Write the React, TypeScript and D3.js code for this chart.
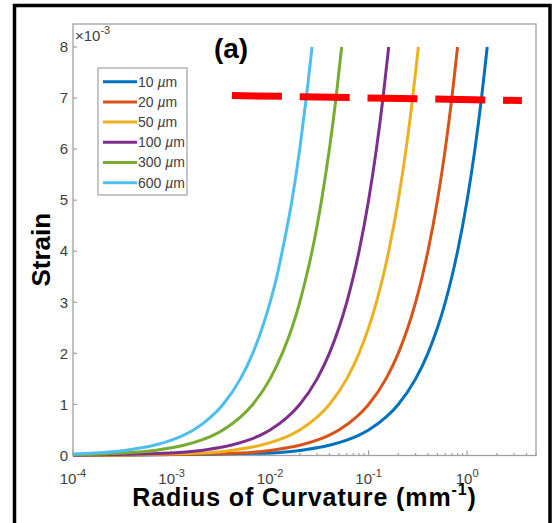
import React from "react";
import * as d3 from "d3";

// legend labels (film thickness, um) and MATLAB default colours
const thickness = ["10", "20", "50", "100", "300", "600"];
const colors = ["#0072BD", "#D95319", "#EDB120", "#7E2F8E", "#77AC30", "#4DBEEE"];

// strain (x10^-3), shared levels
const strainLevels = [0.05, 0.1, 0.15, 0.2, 0.3, 0.4, 0.5, 0.75, 1, 1.5, 2, 2.5, 3, 3.5, 4, 5, 6, 7, 8];
// curvature (mm^-1) where each curve reaches the levels above
const k10 = [0.01, 0.02, 0.03, 0.04, 0.06, 0.08, 0.1, 0.15, 0.2, 0.3, 0.4, 0.5, 0.6, 0.7, 0.8, 1.0, 1.2, 1.4, 1.6];
const k20 = [0.005, 0.01, 0.015, 0.02, 0.03, 0.04, 0.05, 0.075, 0.1, 0.15, 0.2, 0.25, 0.3, 0.35, 0.4, 0.5, 0.6, 0.7, 0.8];
const k50 = [0.002, 0.004, 0.006, 0.008, 0.012, 0.016, 0.02, 0.03, 0.04, 0.06, 0.08, 0.1, 0.12, 0.14, 0.16, 0.2, 0.24, 0.28, 0.32];
const k100 = [0.001, 0.002, 0.003, 0.004, 0.006, 0.008, 0.01, 0.015, 0.02, 0.03, 0.04, 0.05, 0.06, 0.07, 0.08, 0.1, 0.12, 0.14, 0.16];
const k300 = [0.00033, 0.00067, 0.001, 0.00133, 0.002, 0.00267, 0.00333, 0.005, 0.00667, 0.01, 0.0133, 0.0167, 0.02, 0.0233, 0.0267, 0.0333, 0.04, 0.0467, 0.0533];
const k600 = [0.000167, 0.000333, 0.0005, 0.000667, 0.001, 0.00133, 0.00167, 0.0025, 0.00333, 0.005, 0.00667, 0.00833, 0.01, 0.0117, 0.0133, 0.0167, 0.02, 0.0233, 0.0267];
const curvatures = [k10, k20, k50, k100, k300, k600];
// strain at the left edge (curvature 1e-4)
const startStrain = [0.0005, 0.001, 0.0025, 0.005, 0.015, 0.03];

// red dashed threshold
const thresholdK = [0.0041, 3.6];
const thresholdStrain = [7.05, 6.95];

const yTicks = [0, 1, 2, 3, 4, 5, 6, 7, 8];
const xDecades = [-4, -3, -2, -1, 0];

const FONT = "Arial, 'Liberation Sans', Helvetica, sans-serif";
const AXIS = "#a0a0a0";
const TXT = "#404040";

const App = () => {
    const width = 555;
    const height = 523;
    const left = 73, right = 536, top = 24, bottom = 455.5;

    const x = d3.scaleLog().domain([1e-4, 5]).range([left, right]);
    const y = d3.scaleLinear().domain([0, 8.45]).range([bottom, top]);

    const line = d3
        .line<[number, number]>()
        .x((d) => x(d[0]))
        .y((d) => y(d[1]))
        .curve(d3.curveMonotoneX);

    const series = curvatures.map((ks, i) => {
        const pts: [number, number][] = [[1e-4, startStrain[i]]];
        ks.forEach((k, j) => {
            if (k > 1e-4) pts.push([k, strainLevels[j]]);
        });
        return pts;
    });

    const minorTicks: number[] = [];
    xDecades.forEach((e) => {
        for (let m = 2; m <= 9; m++) {
            const v = m * Math.pow(10, e);
            if (v <= 5) minorTicks.push(v);
        }
    });

    const thresholdPts: [number, number][] = thresholdK.map((k, i) => [k, thresholdStrain[i]]);
    const straight = d3
        .line<[number, number]>()
        .x((d) => x(d[0]))
        .y((d) => y(d[1]));

    return (
        <svg
            width={width}
            height={height}
            style={{ position: "absolute", left: 0, top: 0, background: "#fff" }}
            fontFamily={FONT}
        >
            {/* outer frame */}
            <rect x={14.5} y={5.5} width={535.5} height={540} fill="none" stroke="#000" strokeWidth={3.5} />

            {/* axes box */}
            <rect x={left} y={top} width={right - left} height={bottom - top} fill="#fff" stroke={AXIS} strokeWidth={1.3} />

            {/* y ticks */}
            {yTicks.map((t) => (
                <g key={"y" + t}>
                    <line x1={left} x2={left + 4} y1={y(t)} y2={y(t)} stroke={AXIS} strokeWidth={1.2} />
                    <text x={left - 5} y={y(t)} dy="0.35em" textAnchor="end" fontSize={15} fill={TXT}>
                        {t}
                    </text>
                </g>
            ))}

            {/* x ticks */}
            {minorTicks.map((v, i) => (
                <line key={"m" + i} x1={x(v)} x2={x(v)} y1={bottom} y2={bottom - 2.5} stroke={AXIS} strokeWidth={1.2} />
            ))}
            {xDecades.map((e) => (
                <g key={"x" + e}>
                    <line x1={x(Math.pow(10, e))} x2={x(Math.pow(10, e))} y1={bottom} y2={bottom - 5} stroke={AXIS} strokeWidth={1.2} />
                    <text x={x(Math.pow(10, e))} y={484} textAnchor="middle" fontSize={15} fill={TXT}>
                        10
                        <tspan fontSize={11} dy={-7}>
                            {e === 0 ? "0" : "-" + Math.abs(e)}
                        </tspan>
                    </text>
                </g>
            ))}

            {/* exponent */}
            <text x={75} y={41} fontSize={15} fill={TXT}>
                ×10
                <tspan fontSize={11} dy={-7}>-3</tspan>
            </text>

            {/* curves */}
            {series.map((pts, i) => (
                <path key={thickness[i]} d={line(pts) || ""} fill="none" stroke={colors[i]} strokeWidth={3} strokeLinejoin="round" />
            ))}

            {/* threshold */}
            <path
                d={straight(thresholdPts) || ""}
                fill="none"
                stroke="#ff0000"
                strokeWidth={7}
                strokeDasharray="50 17.8"
            />

            {/* legend */}
            <rect x={98} y={68} width={89} height={127} fill="#fff" stroke={AXIS} strokeWidth={1.2} />
            {thickness.map((t, i) => {
                const ly = 81.7 + i * 20.2;
                return (
                    <g key={"l" + t}>
                        <line x1={103} x2={137} y1={ly} y2={ly} stroke={colors[i]} strokeWidth={3} />
                        <text x={138} y={ly} dy="0.35em" fontSize={14} fill={TXT}>
                            {t + " "}
                            <tspan fontStyle="italic">µ</tspan>m
                        </text>
                    </g>
                );
            })}

            {/* panel label */}
            <text x={231} y={58} textAnchor="middle" fontSize={28} fontWeight="bold" fill="#000">
                (a)
            </text>

            {/* axis titles */}
            <text
                transform={`translate(50,${(top + bottom) / 2 + 10}) rotate(-90)`}
                textAnchor="middle"
                fontSize={26}
                fontWeight="bold"
                fill="#000"
            >
                Strain
            </text>
            <text
                x={(left + right) / 2}
                y={506}
                textAnchor="middle"
                fontSize={25}
                fontWeight="bold"
                letterSpacing={0.9}
                fill="#000"
            >
                Radius of Curvature (mm
                <tspan fontSize={16} dy={-11}>-1</tspan>
                <tspan dy={11}>)</tspan>
            </text>
        </svg>
    );
};

export default App;
